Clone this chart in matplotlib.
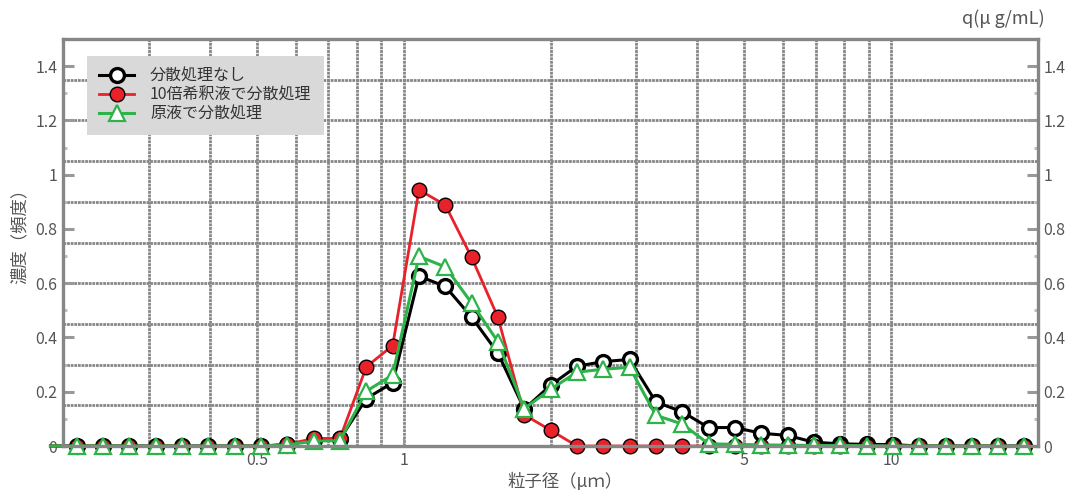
import matplotlib
matplotlib.use("Agg")
import matplotlib.pyplot as plt
import numpy as np
from matplotlib.ticker import FixedLocator, NullFormatter, NullLocator

plt.rcParams['font.family'] = ['Noto Sans CJK JP', 'DejaVu Sans']

# particle size channels (um), first one lies just outside the left frame
size_um = [0.1885, 0.2134, 0.2417, 0.2737, 0.3099, 0.3509, 0.3974, 0.4500, 0.5096,
           0.5771, 0.6535, 0.7400, 0.8380, 0.9490, 1.0746, 1.2169, 1.3780,
           1.5605, 1.7671, 2.0011, 2.2660, 2.5660, 2.9058, 3.2905, 3.7262,
           4.2196, 4.7783, 5.4110, 6.1274, 6.9387, 7.8574, 8.8978, 10.076,
           11.410, 12.921, 14.631, 16.569, 18.762]

no_dispersion = [0, 0, 0, 0, 0, 0, 0, 0, 0, 0.005, 0.022, 0.026, 0.175, 0.233,
                 0.626, 0.588, 0.475, 0.342, 0.136, 0.224, 0.294, 0.311, 0.319,
                 0.162, 0.126, 0.068, 0.068, 0.047, 0.039, 0.014, 0.008, 0.006,
                 0.005, 0, 0, 0, 0, 0]
diluted_dispersion = [0, 0, 0, 0, 0, 0, 0, 0, 0, 0.006, 0.028, 0.028, 0.292, 0.370,
                      0.944, 0.888, 0.695, 0.474, 0.115, 0.058, 0, 0, 0,
                      0, 0, 0, 0, 0, 0, 0, 0, 0,
                      0, 0, 0, 0, 0, 0]
stock_dispersion = [0, 0, 0, 0, 0, 0, 0, 0, 0, 0.004, 0.018, 0.020, 0.202, 0.262,
                    0.699, 0.660, 0.527, 0.384, 0.138, 0.209, 0.272, 0.283, 0.290,
                    0.113, 0.081, 0.008, 0.006, 0.004, 0.003, 0.002, 0.002, 0.001,
                    0, 0, 0, 0, 0, 0]

legend_labels = ['分散処理なし', '10倍希釈液で分散処理', '原液で分散処理']
y_ticks = [0, 0.2, 0.4, 0.6, 0.8, 1.0, 1.2, 1.4]
y_tick_labels = ['0', '0.2', '0.4', '0.6', '0.8', '1', '1.2', '1.4']
x_ticks = [0.5, 1, 5, 10]
x_tick_labels = ['0.5', '1', '5', '10']

GREY = '#868686'
TXT = '#555555'
RED = '#e8212b'
GREEN = '#2db34a'

fig = plt.figure(figsize=(10.69, 4.90), dpi=100)
ax = fig.add_axes([63/1069, 1-446/490, (1038-63)/1069, (446-39)/490])
ax.set_xscale('log')
ax.set_xlim(0.2, 20)
ax.set_ylim(0, 1.5)

# grid
for xv in [0.3, 0.4, 0.5, 0.6, 0.7, 0.8, 0.9, 1, 2, 3, 4, 5, 6, 7, 8, 9, 10]:
    ax.axvline(xv, color=GREY, lw=2.0, ls=(0, (1.0, 0.3)), zorder=1)
for yv in np.arange(0.15, 1.5, 0.15):
    ax.axhline(yv, color=GREY, lw=2.0, ls=(0, (1.0, 0.3)), zorder=1)

mk = list(range(1, len(size_um)))
ax.plot(size_um, no_dispersion, color='black', lw=2.2, marker='o', ms=10,
        mfc='white', mec='black', mew=2.4, markevery=mk, zorder=3, clip_on=False,
        label=legend_labels[0])
ax.plot(size_um, diluted_dispersion, color=RED, lw=2.0, marker='o', ms=10.5,
        mfc=RED, mec='black', mew=1.0, markevery=mk, zorder=4, clip_on=False,
        label=legend_labels[1])
ax.plot(size_um, stock_dispersion, color=GREEN, lw=2.2, marker='^', ms=11,
        mfc='white', mec=GREEN, mew=1.6, markevery=mk, zorder=5, clip_on=False,
        label=legend_labels[2])

for s in ax.spines.values():
    s.set_color(GREY)
    s.set_linewidth(2.4)
    s.set_zorder(6)

ax.xaxis.set_major_locator(FixedLocator(x_ticks))
ax.set_xticklabels(x_tick_labels)
ax.xaxis.set_minor_locator(NullLocator())
ax.xaxis.set_minor_formatter(NullFormatter())
ax.set_yticks(y_ticks)
ax.set_yticklabels(y_tick_labels)
ax.set_yticks(np.arange(0.1, 1.5, 0.2), minor=True)
ax.tick_params(axis='y', which='major', direction='in', length=8, width=2.2,
               color='#999999', labelcolor=TXT, labelsize=11.5, left=True, right=True,
               labelleft=True, labelright=True, pad=4)
ax.tick_params(axis='y', which='minor', direction='in', length=3, width=2,
               color='#bbbbbb', left=True, right=True)
ax.tick_params(axis='x', which='major', direction='in', length=5, width=1.5,
               color='#999999', labelcolor=TXT, labelsize=11.5, pad=4)

leg = ax.legend(loc='upper left', bbox_to_anchor=((87-63)/975, 1-(56-39)/407),
                frameon=True, fancybox=False, fontsize=11.5, handlelength=2.2,
                borderpad=0.75, labelspacing=0.12, handletextpad=1.0, borderaxespad=0)
leg.get_frame().set_facecolor('#d9d9d9')
leg.get_frame().set_edgecolor('none')
leg.get_frame().set_alpha(1)
for t in leg.get_texts():
    t.set_color('#333333')
leg.set_zorder(7)

fig.text(565/1069, 1-481/490, '粒子径（μｍ）', ha='center', va='center',
         fontsize=12.5, color=TXT)
fig.text(20/1069, 1-232/490, '濃度（頻度）', ha='center', va='center',
         rotation=90, fontsize=12.5, color=TXT)
fig.text(1045/1069, 1-19/490, 'q(μ g/mL)', ha='right', va='center',
         fontsize=13, color=TXT)

fig.savefig('out.png', dpi=100)
